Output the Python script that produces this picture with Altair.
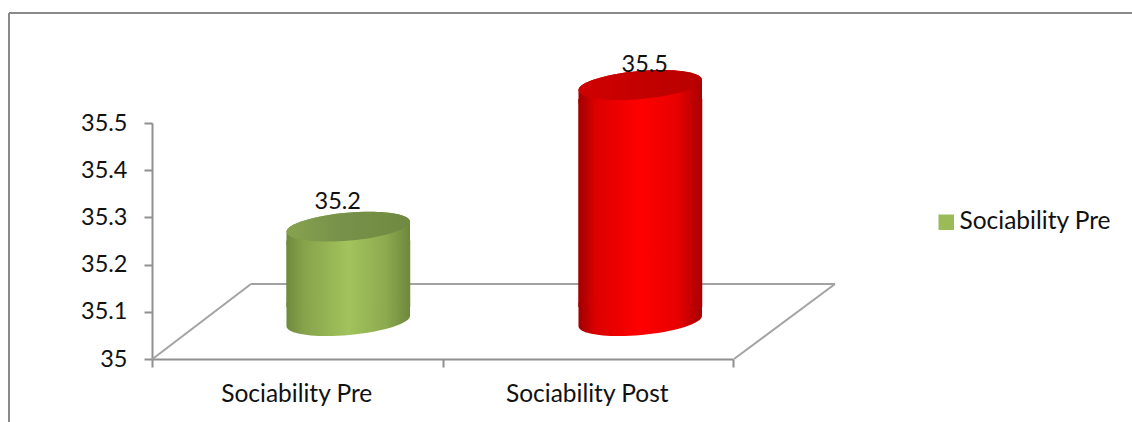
import altair as alt
import pandas as pd

categories = ["Sociability Pre", "Sociability Post"]
values = [35.2, 35.5]
y_ticks = [35, 35.1, 35.2, 35.3, 35.4, 35.5]
legend_entries = ["Sociability Pre"]

FONT = "Lato"
TEXT = "#111111"
AXIS_GREY = "#8f8f8f"
FLOOR_GREY = "#a3a3a3"
BORDER_GREY = "#8a8a8a"
NUMBER_SIZE = 23.5
NAME_SIZE = 24.5

# Canvas layout: plot area inside a fixed 1132x422 page
PLOT_W, PLOT_H = 581, 236
LEFT, TOP = 152, 123

# Cylinder geometry (the 3D projection lifts and shifts each column off the axis)
CYL_WIDTH = 124
CYL_SIZE = CYL_WIDTH ** 2
LIFT = -38
TUCK = 14
ELLIPSE = "M-0.9962,0.0872 A1,0.226 -5 1,1 0.9962,-0.0872 A1,0.226 -5 1,1 -0.9962,0.0872 Z"
TOP_SHOULDER = "M-0.9962,0.0872 A1,0.226 -5 0,1 0.9962,-0.0872 L0.9962,0.3 L-0.9962,0.3 Z"
BOTTOM_SHOULDER = "M-0.9962,0.0872 L-0.9962,-0.3 L0.9962,-0.3 L0.9962,-0.0872 A1,0.226 -5 0,1 -0.9962,0.0872 Z"


def sideways(stops):
    return alt.Gradient(
        gradient="linear", x1=0, x2=1, y1=0, y2=0,
        stops=[alt.GradientStop(offset=o, color=c) for o, c in stops],
    )


styles = {
    "Sociability Pre": {
        "body": [(0, "#6f8a3e"), (0.14, "#86a34a"), (0.5, "#a2c35d"), (0.8, "#8dab4f"), (1, "#6d883c")],
        "cap": [(0, "#87a24e"), (0.45, "#77914a"), (1, "#6f8a40")],
        "shift": 51,
        "label": (40.5, -63),
    },
    "Sociability Post": {
        "body": [(0, "#a00000"), (0.14, "#dc0000"), (0.5, "#ff0000"), (0.8, "#e80000"), (1, "#a80000")],
        "cap": [(0, "#d00000"), (0.5, "#c40000"), (1, "#b80000")],
        "shift": 52.5,
        "label": (57, -58),
    },
}

df = pd.DataFrame({"category": categories, "value": values, "base": [y_ticks[0]] * len(values)})

x = alt.X(
    "category:N",
    sort=categories,
    title=None,
    scale=alt.Scale(paddingInner=0, paddingOuter=0),
    axis=alt.Axis(
        labelAngle=0, labelFont=FONT, labelFontSize=NAME_SIZE, labelColor=TEXT, labelPadding=15, labelOffset=-1,
        domainColor=AXIS_GREY, domainWidth=2, tickColor=AXIS_GREY, tickWidth=2, tickSize=8,
        tickBand="extent", grid=False,
    ),
)
y = alt.Y(
    "value:Q",
    title=None,
    scale=alt.Scale(domain=[y_ticks[0], y_ticks[-1]], zero=False),
    axis=alt.Axis(
        values=y_ticks, format="~g", labelFont=FONT, labelFontSize=NUMBER_SIZE, labelColor=TEXT, labelPadding=17,
        domainColor=AXIS_GREY, domainWidth=2, tickColor=AXIS_GREY, tickWidth=2, tickSize=8, grid=False,
    ),
)


def pixel_line(x1, y1, x2, y2, color, width=2):
    return alt.Chart(df.head(1)).mark_rule(color=color, strokeWidth=width).encode(
        x=alt.value(x1), x2=alt.value(x2), y=alt.value(y1), y2=alt.value(y2)
    )


# Floor of the 3D box and the outer frame of the chart
layers = [
    pixel_line(99, 161, 683, 161, FLOOR_GREY),
    pixel_line(0.5, 236, 99, 161, FLOOR_GREY),
    pixel_line(582, 236, 683, 161, FLOOR_GREY),
    pixel_line(-143, -110, 985, -110, BORDER_GREY),
    pixel_line(-143, -110, -143, 305, BORDER_GREY),
]

# Axes live on a transparent layer so they sit under the columns
layers.insert(0, alt.Chart(df).mark_point(opacity=0).encode(x=x, y=y))

for name in categories:
    part = df[df["category"] == name]
    body = sideways(styles[name]["body"])
    cap = sideways(styles[name]["cap"])
    shift = styles[name]["shift"]
    base = alt.Chart(part)
    point = dict(filled=True, opacity=1, strokeWidth=0, size=CYL_SIZE, xOffset=shift, yOffset=LIFT)
    layers += [
        # The straight wall stops short of both ends; the shoulder shapes finish the tilted rims
        base.mark_bar(width=CYL_WIDTH, fill=body, xOffset=shift, yOffset=LIFT + TUCK, y2Offset=LIFT - TUCK).encode(
            x=alt.X("category:N", sort=categories), y=alt.Y("value:Q"), y2="base:Q"
        ),
        base.mark_point(shape=BOTTOM_SHOULDER, fill=body, **point).encode(
            x=alt.X("category:N", sort=categories), y=alt.Y("base:Q")
        ),
        base.mark_point(shape=TOP_SHOULDER, fill=body, **point).encode(
            x=alt.X("category:N", sort=categories), y=alt.Y("value:Q")
        ),
        base.mark_point(shape=ELLIPSE, fill=cap, **point).encode(
            x=alt.X("category:N", sort=categories), y=alt.Y("value:Q")
        ),
        base.mark_text(
            font=FONT, fontSize=NUMBER_SIZE, color=TEXT,
            dx=styles[name]["label"][0], dy=styles[name]["label"][1],
        ).encode(
            x=alt.X("category:N", sort=categories), y=alt.Y("value:Q"),
            text=alt.Text("value:Q", format=".1f"),
        ),
    ]

# Legend lists only the first series
layers.append(
    alt.Chart(df[df["category"].isin(legend_entries)]).mark_point(filled=True, opacity=0).encode(
        x=alt.X("category:N", sort=categories),
        y=alt.Y("value:Q"),
        color=alt.Color(
            "category:N",
            scale=alt.Scale(domain=legend_entries, range=["#9bbb59"]),
            legend=alt.Legend(
                title=None, orient="none", legendX=782, legendY=87, symbolType="square", symbolSize=240,
                symbolOpacity=1, symbolStrokeWidth=0, labelFont=FONT, labelFontSize=NAME_SIZE, labelColor=TEXT,
                labelOffset=1, padding=0,
            ),
        ),
    )
)

chart = (
    alt.layer(*layers)
    .properties(
        width=PLOT_W,
        height=PLOT_H,
        autosize="none",
        padding={"left": LEFT, "top": TOP, "right": 1132 - LEFT - PLOT_W, "bottom": 422 - TOP - PLOT_H},
        background="#ffffff",
    )
    .configure_view(stroke=None)
)

chart.save("out.html", embed_options={"renderer": "svg", "actions": False})
